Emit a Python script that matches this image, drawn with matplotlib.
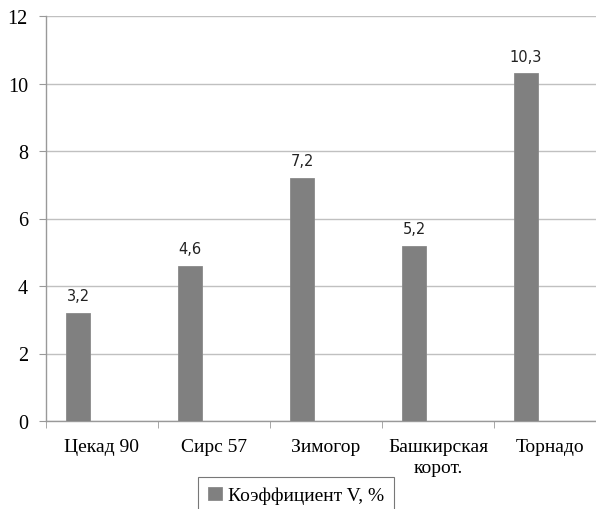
import matplotlib
matplotlib.use("Agg")
import matplotlib.pyplot as plt
import numpy as np

categories = ["Цекад 90", "Сирс 57", "Зимогор", "Башкирская\nкорот.", "Торнадо"]
values = [3.2, 4.6, 7.2, 5.2, 10.3]
value_labels = ["3,2", "4,6", "7,2", "5,2", "10,3"]
series_name = "Коэффициент V, %"
y_ticks = [0, 2, 4, 6, 8, 10, 12]

W, H = 596, 510
fig = plt.figure(figsize=(W / 100, H / 100), dpi=100)
fig.patch.set_facecolor("white")

# plot area spans past the right edge of the canvas
left, right, top, bottom = 46, 606, 17, 422
ax = fig.add_axes([left / W, 1 - bottom / H, (right - left) / W, (bottom - top) / H])

n = len(categories)
centers = np.arange(n) + 0.5
bar_w = 0.214
bar_x = centers - bar_w

bars = ax.bar(bar_x, values, width=bar_w, color="#808080", edgecolor="#8a8a8a",
              linewidth=0.6, zorder=3, label=series_name)

for x, v, t in zip(bar_x, values, value_labels):
    ax.annotate(t, (x, v), xytext=(0, 7), textcoords="offset points",
                ha="center", va="bottom", fontsize=10.5, family="DejaVu Sans",
                color="#222222")

ax.set_xlim(0, n)
ax.set_ylim(0, 12)
ax.set_yticks(y_ticks)
ax.set_yticklabels([str(t) for t in y_ticks], family="Liberation Serif", fontsize=14.5)
ax.yaxis.grid(True, color="#c0c0c0", linewidth=1.0, zorder=0)
ax.set_axisbelow(True)

ax.set_xticks(centers)
ax.set_xticklabels(categories, family="Liberation Serif", fontsize=14, linespacing=1.35)
ax.set_xticks(np.arange(n + 1), minor=True)
ax.tick_params(axis="x", which="major", length=0, pad=12)
ax.tick_params(axis="x", which="minor", length=5, color="#999999", direction="out")
ax.tick_params(axis="y", length=5, color="#999999", direction="out", pad=8)

for s in ["top", "right"]:
    ax.spines[s].set_visible(False)
for s in ["left", "bottom"]:
    ax.spines[s].set_color("#999999")
    ax.spines[s].set_linewidth(1.0)

leg = fig.legend(handles=[bars], labels=[series_name], loc="upper center",
                 bbox_to_anchor=(296 / W, 1 - 478 / H),
                 prop={"family": "Liberation Serif", "size": 14},
                 frameon=True, fancybox=False, edgecolor="#555555",
                 handlelength=0.7, handleheight=0.7, handletextpad=0.3,
                 borderpad=0.5, borderaxespad=0)
leg.get_frame().set_linewidth(0.8)

fig.savefig("out.png", dpi=100, facecolor="white")
